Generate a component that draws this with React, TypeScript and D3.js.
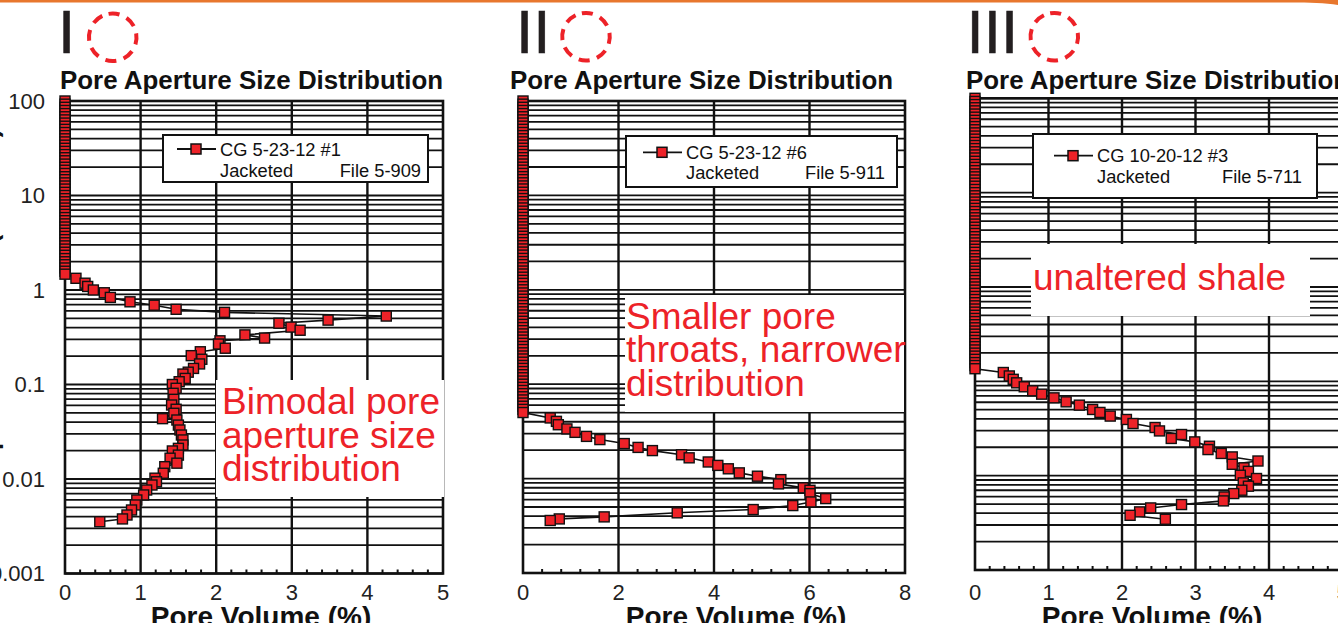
import * as d3 from 'd3';

// pore sizes (microns) recorded with zero intruded volume, shared pressure schedule
const zeroVolumeSizes = [
  100, 92.6, 85.8, 79.4, 73.6, 68.1, 63.1, 58.4, 54.1, 50.1, 46.4, 43.0, 39.8, 36.9, 34.1,
  31.6, 29.3, 27.1, 25.1, 23.3, 21.5, 19.9, 18.5, 17.1, 15.8, 14.7, 13.6, 12.6, 11.7, 10.8,
  10.0, 9.26, 8.58, 7.94, 7.36, 6.81, 6.31, 5.84, 5.41, 5.01, 4.64, 4.30, 3.98, 3.69, 3.41,
  3.16, 2.93, 2.71, 2.51, 2.33, 2.15, 1.99, 1.85, 1.71, 1.58, 1.47, 1.36, 1.26, 1.17, 1.08,
  1.00, 0.926, 0.858, 0.794, 0.736, 0.681, 0.631, 0.584, 0.541, 0.501, 0.464, 0.430, 0.398,
  0.369, 0.341, 0.316, 0.293, 0.271, 0.251, 0.233, 0.215, 0.199, 0.185, 0.171, 0.158, 0.147,
  0.136, 0.126, 0.117, 0.108, 0.100, 0.0926, 0.0858, 0.0794, 0.0736, 0.0681, 0.0631, 0.0584,
  0.0541, 0.0501,
];

const sampleNames = ['CG 5-23-12 #1', 'CG 5-23-12 #6', 'CG 10-20-12 #3'];
const fileNames = ['File 5-909', 'File 5-911', 'File 5-711'];
const romanLabels = ['I', 'II', 'III'];
const stackEnds = [1.47, 0.0501, 0.136];
const xMaxes = [5, 8, 5];
const xMajorSteps = [1, 2, 1];
const xMinorSteps = [0.2, 0.4, 0.2];
const yTickValues = [100, 10, 1, 0.1, 0.01, 0.001];
const yTickLabels = ['100', '10', '1', '0.1', '0.01', '0.001'];
const notes = [
  ['Bimodal pore', 'aperture size', 'distribution'],
  ['Smaller pore', 'throats, narrower', 'distribution'],
  ['unaltered shale'],
];

const cg1Volume = [
  0.145, 0.265, 0.30, 0.375, 0.52, 0.60, 0.86, 1.18, 1.47, 2.11,
  4.25, 3.48, 2.83, 2.99, 3.11, 2.38, 2.64, 2.05, 2.03, 2.12,
  1.79, 1.67, 1.81, 1.78, 1.70, 1.63, 1.56, 1.59, 1.51, 1.42,
  1.47, 1.43, 1.44, 1.41, 1.47, 1.44, 1.29, 1.48, 1.50, 1.52,
  1.54, 1.56, 1.56, 1.50, 1.42, 1.50, 1.39, 1.48, 1.32, 1.30,
  1.19, 1.21, 1.15, 1.08, 1.04, 0.95, 0.93, 0.88, 0.82, 0.76, 0.46,
];
const cg1Size = [
  1.33, 1.18, 1.09, 1.0, 0.935, 0.835, 0.75, 0.69, 0.625, 0.58,
  0.53, 0.48, 0.445, 0.405, 0.375, 0.335, 0.31, 0.29, 0.268, 0.242,
  0.222, 0.202, 0.185, 0.165, 0.148, 0.135, 0.129, 0.116, 0.107, 0.100,
  0.0912, 0.0807, 0.0697, 0.0607, 0.0547, 0.0496, 0.0435, 0.0421, 0.0372, 0.033,
  0.0292, 0.0259, 0.0229, 0.0211, 0.0198, 0.0179, 0.0166, 0.0147, 0.0135, 0.0115,
  0.0102, 0.00935, 0.00864, 0.00765, 0.00678, 0.0060, 0.00531, 0.0047, 0.00416, 0.00378, 0.00353,
];

const cg6Volume = [
  0.57, 0.70, 0.74, 0.92, 1.09, 1.33, 1.61, 2.12, 2.41, 2.71,
  3.32, 3.48, 3.88, 4.08, 4.30, 4.53, 4.91, 5.40, 5.35, 5.87,
  6.01, 6.01, 6.34, 6.03, 5.65, 4.82, 3.23, 1.70, 0.76, 0.57,
];
const cg6Size = [
  0.0439, 0.0404, 0.0372, 0.0336, 0.0309, 0.028, 0.0259, 0.0235, 0.0214, 0.0198,
  0.0179, 0.0166, 0.015, 0.0138, 0.0127, 0.0115, 0.0106, 0.00975, 0.00879, 0.00798,
  0.00752, 0.00693, 0.00614, 0.00566, 0.00518, 0.0047, 0.00434, 0.00393, 0.00374, 0.0036,
];

const cg3Volume = [
  0.385, 0.467, 0.52, 0.567, 0.67, 0.785, 0.907, 1.075, 1.24, 1.42,
  1.60, 1.70, 1.84, 2.06, 2.15, 2.45, 2.51, 2.81, 2.67, 2.99,
  3.19, 3.17, 3.35, 3.50, 3.85, 3.50, 3.66, 3.72, 3.61, 3.83,
  3.65, 3.72, 3.63, 3.52, 3.39, 3.38, 2.81, 2.39, 2.24, 2.11, 2.59,
];
const cg3Size = [
  0.124, 0.114, 0.105, 0.0964, 0.0875, 0.0793, 0.0731, 0.0668, 0.0606, 0.0559,
  0.0503, 0.0468, 0.0428, 0.0394, 0.0357, 0.0324, 0.0298, 0.0273, 0.0248, 0.0228,
  0.0205, 0.0189, 0.0172, 0.0158, 0.0143, 0.0132, 0.0121, 0.0111, 0.0101, 0.00933,
  0.00838, 0.00773, 0.00701, 0.00646, 0.00595, 0.0054, 0.00494, 0.00455, 0.00413, 0.0038, 0.00345,
];

const volumes = [cg1Volume, cg6Volume, cg3Volume];
const sizes = [cg1Size, cg6Size, cg3Size];

const FONT = '"Liberation Sans", Arial, Helvetica, sans-serif';
const RED = '#ED2228';
const INK = '#111';

const layout = [
  {
    left: 65, right: 443, top: 101, bottom: 573.5, titleX: 60, romanX: 58, circle: [112.7, 37.3],
    legend: { x: 163, y: 135, w: 265, h: 47, lineY: 149, textX: 220, base1: 156, base2: 177, fileX: 421 },
    note: { x: 216, y: 380, w: 228, h: 117, tx: 222, bases: [414, 447.5, 481] },
    axisTitleX: 261,
  },
  {
    left: 523, right: 905, top: 101, bottom: 573, titleX: 510, romanX: 516, circle: [586, 36.7],
    legend: { x: 626, y: 136, w: 271, h: 51, lineY: 152.3, textX: 686, base1: 159, base2: 179, fileX: 885 },
    note: { x: 625, y: 295, w: 279, h: 117, tx: 626, bases: [328.5, 362, 395.5] },
    axisTitleX: 736,
  },
  {
    left: 975, right: 1342.5, top: 98.3, bottom: 570, titleX: 966, romanX: 966.5, circle: [1054.3, 36.7],
    legend: { x: 1033, y: 134, w: 284, h: 64, lineY: 155.7, textX: 1097, base1: 162, base2: 183, fileX: 1302 },
    note: { x: 1031, y: 244, w: 279, h: 72, tx: 1033, bases: [290] },
    axisTitleX: 1152,
  },
];

function Panel({ i }: { i: number }) {
  const L = layout[i];
  const x = d3.scaleLinear().domain([0, xMaxes[i]]).range([L.left, L.right]);
  const y = d3.scaleLog().domain([0.001, 100]).range([L.bottom, L.top]);

  const stack = zeroVolumeSizes.filter((s) => s >= stackEnds[i]).map((s) => [0, s]);
  const pts = stack.concat(volumes[i].map((v, k) => [v, sizes[i][k]]));
  const line = d3.line<number[]>().x((d) => x(d[0])).y((d) => y(d[1]));

  const hGrid = y.ticks();
  const majors = d3.range(xMajorSteps[i], xMaxes[i] - 1e-6, xMajorSteps[i]);
  const minors = d3.range(xMinorSteps[i], xMaxes[i], xMinorSteps[i])
    .filter((v) => Math.abs(v / xMajorSteps[i] - Math.round(v / xMajorSteps[i])) > 1e-6);
  const xLabels = d3.range(0, xMaxes[i] + 1e-6, xMajorSteps[i]);
  const lg = L.legend;
  const nt = L.note;

  return (
    <g>
      <text x={L.romanX} y={53} fontFamily={FONT} fontSize={62} fill="#231f20" stroke="#231f20" strokeWidth={0.6}>
        {romanLabels[i]}
      </text>
      <circle cx={L.circle[0]} cy={L.circle[1]} r={23.8} fill="none" stroke={RED} strokeWidth={4} strokeDasharray="11 7.7" transform={`rotate(-100 ${L.circle[0]} ${L.circle[1]})`} />
      <text x={L.titleX} y={89} fontFamily={FONT} fontWeight="bold" fontSize={25.9} fill={INK}>
        Pore Aperture Size Distribution
      </text>

      {hGrid.map((t, k) => (
        <line key={'h' + k} x1={L.left} x2={L.right} y1={y(t)} y2={y(t)} stroke={INK} strokeWidth={1.8} />
      ))}
      {majors.map((t, k) => (
        <line key={'v' + k} x1={x(t)} x2={x(t)} y1={L.top} y2={L.bottom} stroke={INK} strokeWidth={2.4} />
      ))}
      {minors.map((t, k) => (
        <line key={'m' + k} x1={x(t)} x2={x(t)} y1={L.bottom} y2={L.bottom - 4} stroke={INK} strokeWidth={2} />
      ))}
      <rect x={L.left} y={L.top} width={L.right - L.left} height={L.bottom - L.top} fill="none" stroke={INK} strokeWidth={2.6} />

      {i === 0 && yTickValues.map((t, k) => (
        <text key={'yl' + k} x={45} y={y(t) + 7.8} textAnchor="end" fontFamily={FONT} fontSize={22} fill="#222">
          {yTickLabels[k]}
        </text>
      ))}
      {xLabels.map((t, k) => (
        <text key={'xl' + k} x={x(t)} y={599.5} textAnchor="middle" fontFamily={FONT} fontSize={22} fill="#222">
          {t}
        </text>
      ))}
      <text x={L.axisTitleX} y={626} textAnchor="middle" fontFamily={FONT} fontWeight="bold" fontSize={28} fill={INK}>
        Pore Volume (%)
      </text>

      <rect x={lg.x} y={lg.y} width={lg.w} height={lg.h} fill="#fff" stroke={INK} strokeWidth={2} />
      <line x1={lg.textX - 43} x2={lg.textX - 4} y1={lg.lineY} y2={lg.lineY} stroke={INK} strokeWidth={1.8} />
      <rect x={lg.textX - 29} y={lg.lineY - 5} width={10} height={10} fill={RED} stroke={INK} strokeWidth={1.5} />
      <text x={lg.textX} y={lg.base1} fontFamily={FONT} fontSize={18.3} fill={INK}>{sampleNames[i]}</text>
      <text x={lg.textX} y={lg.base2} fontFamily={FONT} fontSize={18.3} fill={INK}>Jacketed</text>
      <text x={lg.fileX} y={lg.base2} textAnchor="end" fontFamily={FONT} fontSize={18.3} fill={INK}>{fileNames[i]}</text>

      <rect x={nt.x} y={nt.y} width={nt.w} height={nt.h} fill="#fff" />
      {notes[i].map((s, k) => (
        <text key={'n' + k} x={nt.tx} y={nt.bases[k]} fontFamily={FONT} fontSize={37} fill={RED}>{s}</text>
      ))}

      <path d={line(pts) || ''} fill="none" stroke={INK} strokeWidth={1.6} />
      {pts.map((d, k) => (
        <rect key={'p' + k} x={x(d[0]) - 5} y={y(d[1]) - 5} width={10} height={10} fill={RED} stroke={INK} strokeWidth={1.4} />
      ))}
    </g>
  );
}

export default function App() {
  return (
    <svg width={1338} height={623} style={{ position: 'absolute', left: 0, top: 0, background: '#fff' }}>
      <rect width={1338} height={623} fill="#fff" />
      <path d="M0,0 H1338 V5 C1325,3 1310,2.5 1290,2.5 H0 Z" fill="#E8772E" />
      <text transform="translate(-2,129) rotate(-90)" textAnchor="end" fontFamily={FONT} fontWeight="bold" fontSize={25} fill={INK}>
        Pore Aperture Diameter (microns)
      </text>
      {[0, 1, 2].map((i) => <Panel key={i} i={i} />)}
    </svg>
  );
}
